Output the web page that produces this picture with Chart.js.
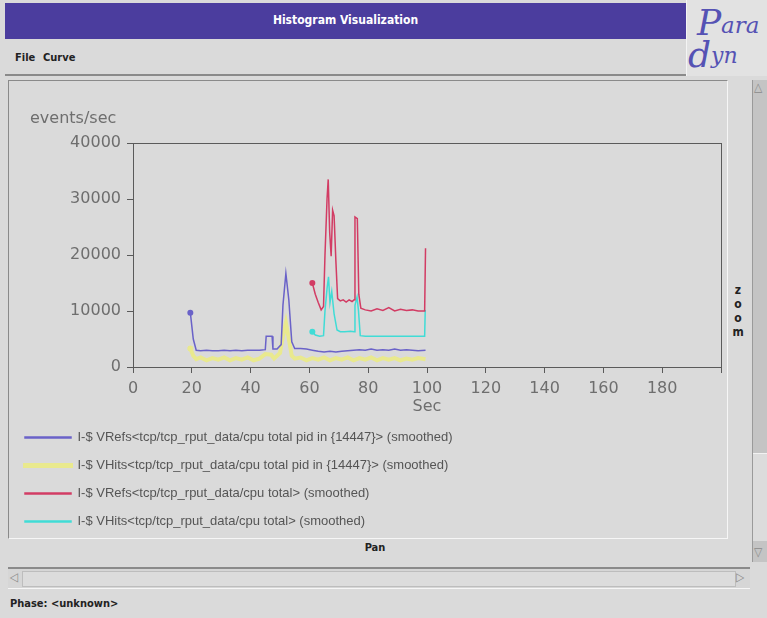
<!DOCTYPE html>
<html>
<head>
<meta charset="utf-8">
<title>Histogram Visualization</title>
<script src="https://cdn.jsdelivr.net/npm/chart.js@4.4.1/dist/chart.umd.min.js"></script>
<style>
  body { margin: 0; width: 767px; height: 618px; background: #dadada; position: relative; overflow: hidden;
         font-family: "DejaVu Sans Condensed", "DejaVu Sans", sans-serif; }
  .abs { position: absolute; }
  #titlebar { left: 5px; top: 3px; width: 681px; height: 36px; background: #4b3d9e; color: #fff;
              font-weight: bold; font-size: 12px; text-align: center; line-height: 34px; }
  #logo { left: 686px; top: 0; width: 81px; height: 76px; background: #e2e2e2; border-left: 1px solid #f4f4f4; overflow: hidden; }
  #logo span { position: absolute; font-family: "DejaVu Serif", serif; font-style: italic; color: #5552b4; }
  #menu { left: 5px; top: 39px; width: 681px; height: 35px; border-bottom: 2px solid #8a8a8a; }
  #menu span { position: absolute; top: 12px; font-size: 11px; font-weight: bold; color: #222; }
  #frame { left: 8px; top: 80px; width: 718px; height: 457px; border-top: 1px solid #8a8a8a; border-left: 1px solid #8a8a8a;
           border-right: 1px solid #f6f6f6; border-bottom: 1px solid #f6f6f6; }
  #chartBox { left: 10px; top: 82px; width: 717px; height: 456px; }
  #zoomLbl { left: 731px; top: 283px; width: 14px; font-size: 12px; font-weight: bold; color: #222; line-height: 14px; text-align: center; }
  #vscroll { left: 752px; top: 80px; width: 15px; height: 482px; background: #c4c4c4; border-left: 1px solid #9a9a9a; }
  #vslider { left: 753px; top: 453px; width: 14px; height: 87px; background: #dcdcdc; border-top: 1px solid #f2f2f2; }
  .arrow { position: absolute; font-size: 12px; color: #8a8a8a; }
  #pan { left: 0; top: 541px; width: 750px; text-align: center; font-size: 11px; font-weight: bold; color: #222; }
  #hscroll { left: 8px; top: 567px; width: 742px; height: 19px; border-top: 2px solid #8a8a8a; border-bottom: 1px solid #f6f6f6; background: #d6d6d6; }
  #hslider { left: 22px; top: 571px; width: 712px; height: 14px; border: 1px solid #bdbdbd; background: #dcdcdc; }
  #phase { left: 10px; top: 597px; font-size: 11px; font-weight: bold; color: #222; }
</style>
</head>
<body>
<div id="titlebar" class="abs">Histogram Visualization</div>
<div id="logo" class="abs">
  <span style="left:10px; top:2px; font-size:36px;">P</span>
  <span style="left:34px; top:12px; font-size:23px;">ara</span>
  <span style="left:1px; top:34px; font-size:36px;">d</span>
  <span style="left:24px; top:43px; font-size:22px;">yn</span>
</div>
<div id="menu" class="abs"><span style="left:10px">File</span><span style="left:38px">Curve</span></div>
<div id="frame" class="abs"></div>
<div id="chartBox" class="abs"><canvas id="chart"></canvas></div>
<div id="zoomLbl" class="abs">z<br>o<br>o<br>m</div>
<div id="vscroll" class="abs"></div>
<div id="vslider" class="abs"></div>
<span class="arrow" style="left:754px; top:80px;">&#9651;</span>
<span class="arrow" style="left:754px; top:545px;">&#9661;</span>
<div id="pan" class="abs">Pan</div>
<div id="hscroll" class="abs"></div>
<div id="hslider" class="abs"></div>
<span class="arrow" style="left:10px; top:570px;">&#9665;</span>
<span class="arrow" style="left:736px; top:570px;">&#9655;</span>
<div id="phase" class="abs">Phase: &lt;unknown&gt;</div>

<script>
// axis setup
const xMax = 200;
const yMax = 40000;
const yStep = 10000;
const xStep = 20;
const yUnit = 'events/sec';

const seriesNames = [
    'I-$ VRefs<tcp/tcp_rput_data/cpu total pid in {14447}> (smoothed)',
    'I-$ VHits<tcp/tcp_rput_data/cpu total pid in {14447}> (smoothed)',
    'I-$ VRefs<tcp/tcp_rput_data/cpu total> (smoothed)',
    'I-$ VHits<tcp/tcp_rput_data/cpu total> (smoothed)'
];
const seriesColors = ['#6a62c8', '#e9e98e', '#d23c64', '#40dcd6'];

// VRefs pid
const blueT = [19.5, 20.5, 21.5, 23, 25, 27, 29, 31, 33, 35, 37, 39, 41, 43, 45, 45.3, 47.3, 47.6, 49, 50.4,
               51, 52, 53, 54, 55, 57, 59, 61, 63, 65, 67, 69, 71, 73, 75, 77, 79, 81, 83, 85,
               87, 89, 91, 93, 95, 97, 99.5];
const blueV = [9700, 5000, 3000, 2900, 3000, 2900, 2900, 3000, 2900, 3000, 2900, 3000, 3000, 3000, 3100, 5500, 5500, 3200, 3200, 4000,
               11000, 16700, 12000, 4500, 3300, 3300, 3200, 3000, 2800, 2700, 2800, 2700, 2800, 2900, 3000, 3100, 3000, 3200, 3000, 3100,
               3000, 3200, 3000, 3100, 3000, 2900, 3000];

// VHits pid
const yellowT = [19.5, 20.5, 21.5, 23, 25, 27, 29, 31, 33, 35, 37, 39, 41, 43, 45, 47, 48, 50, 51, 52,
                 53, 54, 55, 57, 59, 61, 63, 65, 67, 69, 71, 73, 75, 77, 79, 81, 83, 85, 87, 89,
                 91, 93, 95, 97, 99.5];
const yellowV = [3300, 2000, 1400, 1700, 1200, 1600, 1300, 1700, 1200, 1600, 1300, 1700, 1200, 1500, 2300, 2200, 1500, 2500, 5500, 7900,
                 5000, 2000, 1500, 1700, 1200, 1600, 1300, 1700, 1200, 1600, 1300, 1700, 1200, 1600, 1300, 1700, 1200, 1600, 1300, 1600,
                 1200, 1500, 1300, 1600, 1400];

// VRefs total
const redT = [61, 62, 63, 64, 64.8, 65.3, 66, 66.4, 66.9, 67.4, 67.9, 68.4, 69, 69.6, 70.5, 71.5, 72.5, 73.5, 74.5, 75.2,
              75.5, 76.3, 76.8, 77.5, 79, 81, 83, 85, 87, 89, 91, 93, 95, 97, 99.2, 99.5];
const redV = [15000, 13000, 11500, 10200, 10800, 20000, 30000, 33500, 24000, 19800, 28000, 27000, 19000, 12200, 11800, 12000, 11600, 12000, 11700, 12000,
              26800, 26500, 13000, 10500, 10200, 10000, 10400, 10100, 10600, 10000, 10300, 10100, 10200, 10000, 10000, 21200];

// VHits total
const cyanT = [61, 62, 63.5, 64.8, 65.3, 66, 66.5, 67, 67.6, 68.4, 69.4, 70.5, 72, 74, 75.2, 75.5, 76.2, 76.7, 77.3, 79,
               82, 85, 88, 91, 94, 97, 99.2, 99.4];
const cyanV = [6300, 5700, 5500, 5600, 10000, 14000, 16100, 11500, 13500, 9500, 6600, 6300, 6300, 6400, 6300, 11000, 12500, 10000, 5600, 5500,
               5500, 5500, 5500, 5500, 5500, 5500, 5500, 10200];

function pairUp(ts, vs) {
    return ts.map((t, i) => ({x: t, y: vs[i]}));
}

function makeSet(i, ts, vs, width) {
    return {
        label: seriesNames[i],
        data: pairUp(ts, vs),
        borderColor: seriesColors[i],
        backgroundColor: seriesColors[i],
        borderWidth: width,
        pointRadius: (c) => c.dataIndex === 0 ? 3 : 0,
        pointBorderWidth: 0,
        tension: 0,
        fill: false
    };
}

const tickFont = {family: 'DejaVu Sans', size: 16};

// box round the plot + the horizontal unit label over the y axis
const plotFrame = {
    id: 'plotFrame',
    afterDatasetsDraw(chart) {
        const a = chart.chartArea;
        const ctx = chart.ctx;
        ctx.save();
        ctx.strokeStyle = '#5a5a5a';
        ctx.lineWidth = 1;
        ctx.strokeRect(Math.round(a.left) + 0.5, Math.round(a.top) + 0.5, Math.round(a.right - a.left), Math.round(a.bottom - a.top));
        ctx.fillStyle = '#6e6e6e';
        ctx.font = '16px "DejaVu Sans"';
        ctx.textBaseline = 'middle';
        ctx.fillText(yUnit, 20, a.top - 24);
        ctx.restore();
    }
};

new Chart(document.getElementById('chart'), {
    type: 'line',
    data: {
        datasets: [
            makeSet(0, blueT, blueV, 1.5),
            makeSet(1, yellowT, yellowV, 4),
            makeSet(2, redT, redV, 1.5),
            makeSet(3, cyanT, cyanV, 1.5)
        ]
    },
    plugins: [plotFrame],
    options: {
        responsive: true,
        maintainAspectRatio: false,
        animation: false,
        layout: {padding: {left: 0, right: 2, top: 61, bottom: 0}},
        scales: {
            x: {
                type: 'linear',
                min: 0,
                max: xMax,
                border: {color: '#5a5a5a'},
                grid: {drawOnChartArea: false, tickLength: 6, color: '#5a5a5a'},
                ticks: {
                    stepSize: xStep,
                    padding: 6,
                    color: '#6e6e6e',
                    font: tickFont,
                    maxRotation: 0,
                    callback: (v) => v >= xMax ? '' : v
                },
                title: {display: true, text: 'Sec', color: '#6e6e6e', font: tickFont, padding: {top: 0, bottom: 0}},
                afterFit: (scale) => { scale.height = 49; }
            },
            y: {
                min: 0,
                max: yMax,
                border: {color: '#5a5a5a'},
                grid: {drawOnChartArea: false, tickLength: 6, color: '#5a5a5a'},
                ticks: {stepSize: yStep, padding: 6, color: '#6e6e6e', font: tickFont, callback: (v) => String(v)},
                afterFit: (scale) => { scale.width = 123; }
            }
        },
        plugins: {
            legend: {
                position: 'bottom',
                align: 'start',
                labels: {
                    boxWidth: 46,
                    boxHeight: 1,
                    padding: 15,
                    color: '#555',
                    font: {family: 'Liberation Sans', size: 13}
                }
            },
            tooltip: {enabled: false}
        }
    }
});
</script>
</body>
</html>
